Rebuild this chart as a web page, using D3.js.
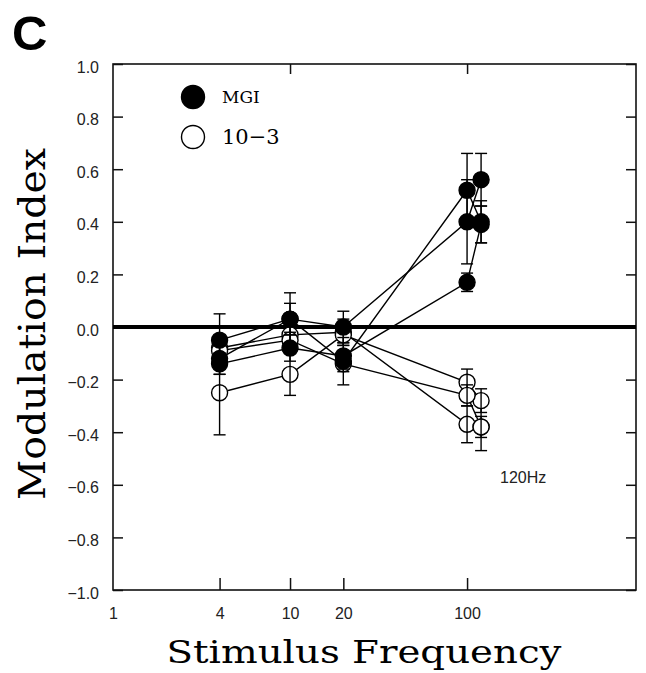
<!DOCTYPE html>
<html>
<head>
<meta charset="utf-8">
<script src="https://cdn.jsdelivr.net/npm/d3@7"></script>
<style>
  body { margin: 0; background: #fff; }
  svg { display: block; }
</style>
</head>
<body>
<div id="chart"></div>
<script>
// stimulus frequencies (Hz) tested for every cell
var freqs = [4, 10, 20, 100, 120];

// MGI cells (filled circles): mean modulation index and error per frequency
var mgiMeans = [
    [-0.05, 0.03, -0.13, 0.52, 0.40],
    [-0.12, 0.03, 0.00, 0.40, 0.56],
    [-0.14, -0.08, -0.11, 0.17, 0.39]
];
var mgiErrs = [
    [0.10, 0.10, 0.09, 0.14, 0.08],
    [0.06, 0.06, 0.06, 0.16, 0.10],
    [0.04, 0.05, 0.05, 0.035, 0.07]
];

// 10-3 cells (open circles)
var ctlMeans = [
    [-0.08, -0.03, -0.02, -0.37, -0.38],
    [-0.25, -0.18, -0.03, -0.21, -0.28],
    [-0.09, -0.05, -0.14, -0.26, -0.38]
];
var ctlErrs = [
    [0.04, 0.04, 0.05, 0.07, 0.09],
    [0.16, 0.08, 0.04, 0.05, 0.045],
    [0.03, 0.03, 0.03, 0.04, 0.04]
];

var xTicks = [1, 4, 10, 20, 100];
var yTicks = [-1.0, -0.8, -0.6, -0.4, -0.2, 0.0, 0.2, 0.4, 0.6, 0.8, 1.0];

var W = 646, H = 673;
var margin = {top: 64, right: 10, bottom: 83, left: 113};
var width = W - margin.left - margin.right,
    height = H - margin.top - margin.bottom;

var x = d3.scaleLog().domain([1, 900]).range([0, width]);
var y = d3.scaleLinear().domain([-1, 1]).range([height, 0]);

var svg = d3.select("#chart").append("svg")
    .attr("width", W)
    .attr("height", H)
    .append("g")
    .attr("transform", "translate(" + margin.left + "," + margin.top + ")");

var sans = "'Liberation Sans', Arial, Helvetica, sans-serif";
var serif = "'DejaVu Serif', 'Liberation Serif', serif";

// Y axis left + right (inward ticks)
var yAxisL = svg.append("g")
    .call(d3.axisLeft(y).tickValues(yTicks).tickSize(-10).tickPadding(14).tickFormat(d3.format(".1f")));
var yAxisR = svg.append("g")
    .attr("transform", "translate(" + width + ",0)")
    .call(d3.axisRight(y).tickValues(yTicks).tickSize(-10).tickFormat(""));

// X axis bottom + top
var xAxisB = svg.append("g")
    .attr("transform", "translate(0," + height + ")")
    .call(d3.axisBottom(x).tickValues(xTicks).tickSize(-12).tickPadding(18).tickFormat(d3.format("d")));
var xAxisT = svg.append("g")
    .call(d3.axisTop(x).tickValues([10, 100]).tickSize(-10).tickFormat(""));

[yAxisL, yAxisR, xAxisB, xAxisT].forEach(function(a) {
    a.select(".domain").remove();
    a.selectAll("line").attr("stroke", "#111").attr("stroke-width", 1.5);
    a.selectAll("text")
        .attr("fill", "#222")
        .style("font-family", sans)
        .style("font-size", "16px");
});
yAxisL.selectAll("text").attr("dy", "0.5em");
xAxisB.selectAll(".tick").filter(function(d) { return d === 1; }).select("line").remove();

// frame
svg.append("rect")
    .attr("width", width)
    .attr("height", height)
    .attr("fill", "none")
    .attr("stroke", "#111")
    .attr("stroke-width", 1.6);

// zero line
svg.append("line")
    .attr("x1", 0).attr("x2", width)
    .attr("y1", y(0)).attr("y2", y(0))
    .attr("stroke", "#000")
    .attr("stroke-width", 4);

var line = d3.line()
    .x(function(d) { return x(d.f); })
    .y(function(d) { return y(d.v); });

function toPoints(means, errs) {
    return means.map(function(row, i) {
        return row.map(function(v, j) { return {f: freqs[j], v: v, e: errs[i][j]}; });
    });
}
var mgi = toPoints(mgiMeans, mgiErrs);
var ctl = toPoints(ctlMeans, ctlErrs);

function drawLines(cells) {
    cells.forEach(function(cell) {
        svg.append("path")
            .datum(cell)
            .attr("fill", "none")
            .attr("stroke", "#000")
            .attr("stroke-width", 1.4)
            .attr("d", line);
    });
}
drawLines(ctl);
drawLines(mgi);

function drawMarks(cells, filled) {
    cells.forEach(function(cell) {
        var g = svg.append("g");
        g.selectAll("circle")
            .data(cell)
            .enter().append("circle")
            .attr("cx", function(d) { return x(d.f); })
            .attr("cy", function(d) { return y(d.v); })
            .attr("r", 8)
            .attr("fill", filled ? "#000" : "#fff")
            .attr("stroke", "#000")
            .attr("stroke-width", 1.4);
        var eb = g.selectAll(".eb")
            .data(cell)
            .enter().append("g")
            .attr("stroke", "#000")
            .attr("stroke-width", 1.4);
        eb.append("line")
            .attr("x1", function(d) { return x(d.f); })
            .attr("x2", function(d) { return x(d.f); })
            .attr("y1", function(d) { return y(d.v + d.e); })
            .attr("y2", function(d) { return y(d.v - d.e); });
        [1, -1].forEach(function(s) {
            eb.append("line")
                .attr("x1", function(d) { return x(d.f) - 6; })
                .attr("x2", function(d) { return x(d.f) + 6; })
                .attr("y1", function(d) { return y(d.v + s * d.e); })
                .attr("y2", function(d) { return y(d.v + s * d.e); });
        });
    });
}
drawMarks(ctl, false);
drawMarks(mgi, true);

// legend
var legend = [{label: "MGI", filled: true}, {label: "10\u22123", filled: false}];
var lg = svg.selectAll(".legend")
    .data(legend)
    .enter().append("g")
    .attr("transform", function(d, i) { return "translate(" + (193 - margin.left) + "," + (97 - margin.top + i * 40) + ")"; });
lg.append("circle")
    .attr("r", 11.5)
    .attr("fill", function(d) { return d.filled ? "#000" : "#fff"; })
    .attr("stroke", "#000")
    .attr("stroke-width", 1.4);
lg.append("text")
    .attr("x", 29)
    .attr("dy", "0.35em")
    .style("font-family", serif)
    .style("font-size", function(d, i) { return i === 0 ? "17px" : "21px"; })
    .text(function(d) { return d.label; });

// 120Hz note
svg.append("text")
    .attr("x", 500 - margin.left)
    .attr("y", 483 - margin.top)
    .style("font-family", sans)
    .style("font-size", "16px")
    .attr("fill", "#222")
    .text("120Hz");

// axis titles
svg.append("text")
    .attr("transform", "translate(" + (364 - margin.left) + "," + (663 - margin.top) + ")")
    .style("text-anchor", "middle")
    .style("font-family", serif)
    .style("font-size", "31px")
    .attr("textLength", 395)
    .attr("lengthAdjust", "spacingAndGlyphs")
    .text("Stimulus Frequency");

svg.append("text")
    .attr("transform", "translate(" + (45 - margin.left) + "," + (324 - margin.top) + ") rotate(-90)")
    .style("text-anchor", "middle")
    .style("font-family", serif)
    .style("font-size", "38px")
    .attr("textLength", 352)
    .attr("lengthAdjust", "spacingAndGlyphs")
    .text("Modulation Index");

// panel letter
d3.select("svg").append("text")
    .attr("x", 12)
    .attr("y", 50)
    .style("font-family", sans)
    .style("font-weight", "bold")
    .style("font-size", "49px")
    .text("C");
</script>
</body>
</html>
